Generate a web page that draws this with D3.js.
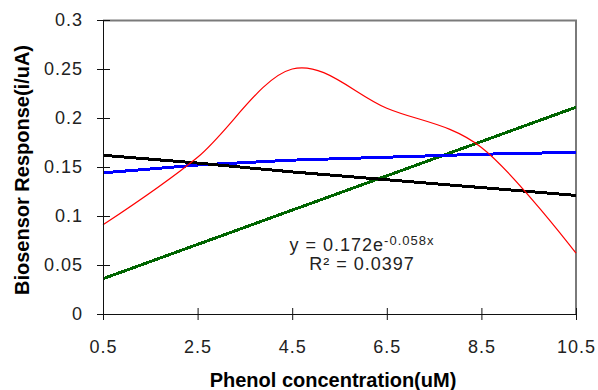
<!DOCTYPE html>
<html lang="en">
<head>
  <meta charset="utf-8" />
  <style>
    body { margin: 0; background: #fff; }
    text { font-family: "Liberation Sans", Arial, sans-serif; }
  </style>
</head>
<body>
<script src="https://cdn.jsdelivr.net/npm/d3@7"></script>
<script>

// phenol concentration (uM) at each sample
const concentrations = [0.5, 2.5, 4.5, 6.5, 8.5, 10.5];

// measured response (smoothed red curve)
const response = [0.091, 0.160, 0.250, 0.210, 0.170, 0.062];
// fitted lines
const expFit = [0.162, 0.154, 0.145, 0.137, 0.129, 0.121];
const logFit = [0.144, 0.152, 0.157, 0.160, 0.163, 0.165];
const linFit = [0.036, 0.071, 0.106, 0.141, 0.176, 0.211];

const xTicks = [0.5, 2.5, 4.5, 6.5, 8.5, 10.5];
const yTicks = [0, 0.05, 0.1, 0.15, 0.2, 0.25, 0.3];

const fitLabel = ['y = 0.172e', '-0.058x', 'R\u00b2 = 0.0397'];

const margin = { top: 20, right: 22, bottom: 76, left: 103 };
const width = 598 - margin.left - margin.right;
const height = 390 - margin.top - margin.bottom;

const svg = d3.select('body')
  .append('svg')
  .attr('width', 598)
  .attr('height', 390)
  .append('g')
  .attr('transform', `translate(${margin.left}, ${margin.top})`);

const x = d3.scaleLinear().domain([0.5, 10.5]).range([0, width]);
const y = d3.scaleLinear().domain([0, 0.3]).range([height, 0]);

// plot area frame (grey, top and right)
svg.append('path')
  .attr('d', `M0,0.5H${width}V${height}`)
  .attr('fill', 'none')
  .attr('stroke', '#7a7a7a')
  .attr('stroke-width', 2);

const series = [
  { values: linFit, color: '#006400', w: 3, crisp: true },
  { values: logFit, color: '#0000ff', w: 3, crisp: true },
  { values: expFit, color: '#000000', w: 3, crisp: true },
  { values: response, color: '#ff0000', w: 1.2, crisp: false, smooth: true }
];

series.forEach(s => {
  const line = d3.line()
    .x((d, i) => x(concentrations[i]))
    .y(d => y(d))
    .curve(s.smooth ? d3.curveCatmullRom.alpha(0) : d3.curveLinear);
  svg.append('path')
    .datum(s.values)
    .attr('d', line)
    .attr('fill', 'none')
    .attr('stroke', s.color)
    .attr('stroke-width', s.w)
    .attr('shape-rendering', s.crisp ? 'crispEdges' : 'auto');
});

// axes
const xAxis = svg.append('g')
  .attr('transform', `translate(0, ${height})`)
  .call(d3.axisBottom(x).tickValues(xTicks).tickSize(6).tickFormat(d => d));
xAxis.selectAll('.tick line').attr('y1', -6);

const yAxis = svg.append('g')
  .call(d3.axisLeft(y).tickValues(yTicks).tickSize(6).tickFormat(d => +d.toFixed(2)));
yAxis.selectAll('.tick line').attr('x1', 7);

svg.selectAll('.domain').attr('stroke', '#111');
svg.selectAll('.tick line').attr('stroke', '#111');
svg.selectAll('.tick text')
  .attr('fill', '#222')
  .style('font-size', '18px')
  .style('letter-spacing', '1px')
  .style('font-family', '"Liberation Sans", Arial, sans-serif');
xAxis.selectAll('.tick text').attr('y', 26);
yAxis.selectAll('.tick text').attr('x', -20);

// trendline label
const lab = svg.append('g')
  .attr('fill', '#222')
  .style('font-size', '18px')
  .style('letter-spacing', '1px');
const l1 = lab.append('text')
  .attr('x', 362 - margin.left)
  .attr('y', 251 - margin.top)
  .attr('text-anchor', 'middle');
l1.append('tspan').text(fitLabel[0]);
l1.append('tspan').attr('dy', -6).style('font-size', '13px').text(fitLabel[1]);
lab.append('text')
  .attr('x', 362 - margin.left)
  .attr('y', 270 - margin.top)
  .attr('text-anchor', 'middle')
  .text(fitLabel[2]);

// axis titles
svg.append('text')
  .attr('x', 333 - margin.left)
  .attr('y', 387 - margin.top)
  .attr('text-anchor', 'middle')
  .style('font-size', '20px')
  .style('font-weight', 'bold')
  .text('Phenol concentration(uM)');

svg.append('text')
  .attr('transform', `translate(${29 - margin.left}, ${170 - margin.top}) rotate(-90)`)
  .attr('text-anchor', 'middle')
  .style('font-size', '20px')
  .style('font-weight', 'bold')
  .text('Biosensor Response(i/uA)');

</script>
</body>
</html>
